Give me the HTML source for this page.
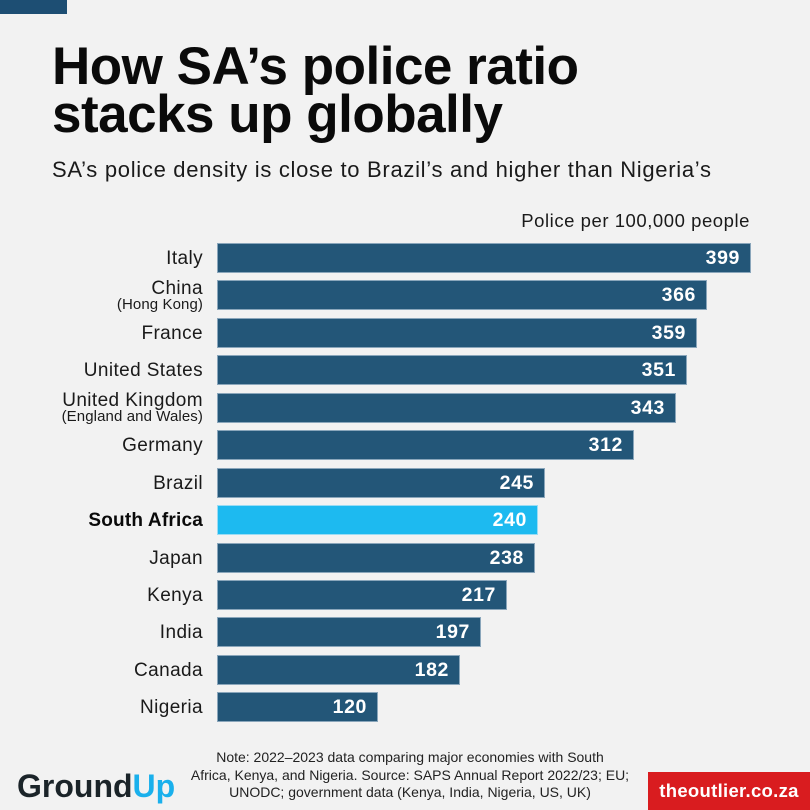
<!DOCTYPE html>
<html><head><meta charset="utf-8">
<style>
html,body{margin:0;padding:0}
body{width:810px;height:810px;background:#f2f2f2;position:relative;overflow:hidden;font-family:"Liberation Sans",Arial,sans-serif;color:#111}
.abs{position:absolute}
.topbar{left:0;top:0;width:67px;height:14px;background:#1d4e73}
.title{left:52px;top:42.6px;font-size:53px;font-weight:bold;line-height:48px;letter-spacing:-0.5px;color:#0a0a0a;white-space:nowrap}
.sub{left:52px;top:158.4px;font-size:22px;line-height:24px;color:#1a1a1a;white-space:nowrap;letter-spacing:0.7px}
.axis{right:60px;top:209px;font-size:18.5px;line-height:24px;color:#1a1a1a;white-space:nowrap;letter-spacing:0.55px}
.bar{left:217px;height:30px;background:#235678;box-sizing:border-box;border:1px solid #8aa6bb}
.bar.sa{background:#1dbaf0;border-color:#9adcf4}
.val{position:absolute;right:10px;top:0;line-height:28px;font-size:19.5px;font-weight:bold;color:#fff;letter-spacing:0.6px}
.lab{right:607px;text-align:right;white-space:nowrap;color:#1a1a1a;letter-spacing:0.4px}
.l1{font-size:19px;line-height:30px}
.l2{font-size:19px;line-height:16px}
.l2 small{display:block;font-size:15px;line-height:15.5px;letter-spacing:0.1px}
.note{left:180px;width:460px;top:749.4px;text-align:center;font-size:14px;line-height:17.5px;color:#222}
.red{left:648px;top:772px;width:162px;height:38px;background:#d91c1f;color:#fff;font-weight:bold;font-size:18.5px;line-height:38px;text-align:center;letter-spacing:0.3px}
.logo{left:17px;top:768px;font-size:32px;font-weight:bold;line-height:36px;letter-spacing:0px;color:#1b2429}
.logo span{color:#1ab0ec}
</style></head><body>
<div class="abs topbar"></div>
<div class="abs title">How SA’s police ratio<br>stacks up globally</div>
<div class="abs sub">SA’s police density is close to Brazil’s and higher than Nigeria’s</div>
<div class="abs axis">Police per 100,000 people</div>

<div class="abs bar" style="top:243px;width:534px"><div class="val">399</div></div>
<div class="abs bar" style="top:280.4px;width:490px"><div class="val">366</div></div>
<div class="abs bar" style="top:317.9px;width:480px"><div class="val">359</div></div>
<div class="abs bar" style="top:355.3px;width:470px"><div class="val">351</div></div>
<div class="abs bar" style="top:392.8px;width:459px"><div class="val">343</div></div>
<div class="abs bar" style="top:430.2px;width:417px"><div class="val">312</div></div>
<div class="abs bar" style="top:467.6px;width:328px"><div class="val">245</div></div>
<div class="abs bar sa" style="top:505.1px;width:321px"><div class="val">240</div></div>
<div class="abs bar" style="top:542.5px;width:318px"><div class="val">238</div></div>
<div class="abs bar" style="top:580px;width:290px"><div class="val">217</div></div>
<div class="abs bar" style="top:617.4px;width:264px"><div class="val">197</div></div>
<div class="abs bar" style="top:654.8px;width:243px"><div class="val">182</div></div>
<div class="abs bar" style="top:692.3px;width:161px"><div class="val">120</div></div>

<div class="abs lab l1" style="top:244px">Italy</div>
<div class="abs lab l2" style="top:281px">China<small>(Hong Kong)</small></div>
<div class="abs lab l1" style="top:318.9px">France</div>
<div class="abs lab l1" style="top:356.3px">United States</div>
<div class="abs lab l2" style="top:393.4px">United Kingdom<small>(England and Wales)</small></div>
<div class="abs lab l1" style="top:431.2px">Germany</div>
<div class="abs lab l1" style="top:468.6px">Brazil</div>
<div class="abs lab l1" style="top:506.1px;font-weight:bold;color:#0a0a0a;letter-spacing:0.2px">South Africa</div>
<div class="abs lab l1" style="top:543.5px">Japan</div>
<div class="abs lab l1" style="top:581px">Kenya</div>
<div class="abs lab l1" style="top:618.4px">India</div>
<div class="abs lab l1" style="top:655.8px">Canada</div>
<div class="abs lab l1" style="top:693.3px">Nigeria</div>

<div class="abs note">Note: 2022–2023 data comparing major economies with South<br>Africa, Kenya, and Nigeria. Source: SAPS Annual Report 2022/23; EU;<br>UNODC; government data (Kenya, India, Nigeria, US, UK)</div>
<div class="abs logo">Ground<span>Up</span></div>
<div class="abs red">theoutlier.co.za</div>
</body></html>
